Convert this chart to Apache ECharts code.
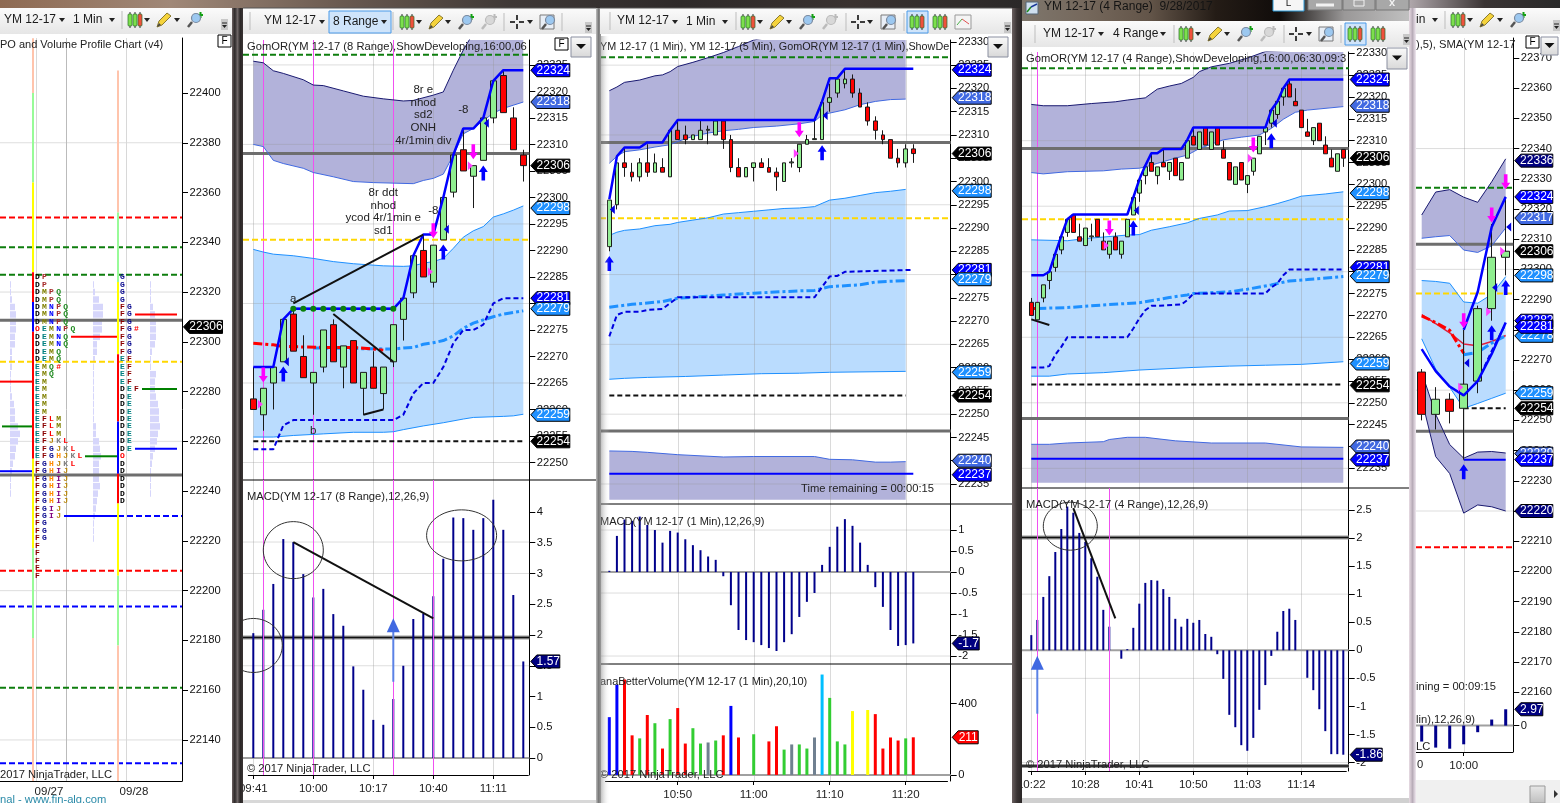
<!DOCTYPE html>
<html><head><meta charset="utf-8">
<style>html,body{margin:0;padding:0;background:#2a2a2a}#c{width:1560px;height:803px}</style>
<script src="https://cdn.jsdelivr.net/npm/echarts@6/dist/echarts.min.js"></script>
</head><body><div id="c"></div>
<script>
/* ============ DATA: candles are [open, close, low, high] ============ */
const candlesB=[[22262,22260,22260,22268],[22259,22264,22256,22264],[22265,22268,22260,22268],[22269,22277,22269,22277],[22278,22271,22271,22279],[22270,22266,22266,22274],[22265,22267,22259,22267],[22268,22275,22267,22275],[22276,22269,22269,22277],[22268,22272,22264,22272],[22273,22265,22265,22273],[22264,22267,22259,22267],[22268,22264,22264,22271],[22263,22268,22260,22268],[22269,22276,22268,22276],[22277,22281,22273,22281],[22282,22289,22281,22289],[22290,22285,22285,22293],[22284,22291,22283,22291],[22292,22300,22292,22300],[22301,22308,22300,22308],[22309,22305,22305,22313],[22304,22306,22298,22306],[22307,22315,22307,22315],[22315,22322,22314,22322],[22323,22316,22316,22324],[22315,22309,22309,22317],[22308,22306,22303,22309]];
const candlesC=[[22286,22296,22285,22296],[22295,22304,22294,22304],[22304,22303,22301,22307],[22302,22301,22300,22304],[22301,22304,22300,22305],[22304,22302,22301,22308],[22302,22304,22302,22306],[22303,22302,22302,22305],[22301,22311,22301,22311],[22311,22309,22309,22313],[22310,22309,22308,22312],[22309,22310,22309,22310],[22309,22311,22309,22313],[22311,22311.2,22308,22312],[22310,22313,22310,22313],[22313,22309,22307,22313],[22309,22303,22302,22310],[22303,22301,22301,22305],[22301,22303,22301,22303],[22303,22304,22300,22304],[22304,22303,22303,22305],[22303,22302,22302,22305],[22302,22301,22298,22303],[22300,22304,22300,22304],[22304,22304.2,22303,22305],[22303,22308,22302,22308],[22308,22309,22308,22310],[22309,22309.2,22309,22313],[22309,22317,22309,22317],[22317,22318,22315,22321],[22319,22322,22318,22322],[22321,22322,22320,22324],[22322,22319,22318,22323],[22319,22316,22316,22320],[22316,22313,22312,22317],[22313,22311,22309,22314],[22310,22309,22308,22311],[22309,22305,22305,22309],[22305,22304,22303,22307],[22304,22307,22303,22308],[22307,22306,22304,22308]];
const candlesD=[[22273,22270,22270,22274],[22269,22273,22269,22273],[22274,22277,22273,22277],[22278,22280,22276,22280],[22281,22284,22280,22284],[22285,22288,22284,22288],[22289,22292,22288,22292],[22293,22289,22289,22293],[22288,22287,22287,22291],[22286,22290,22286,22290],[22288,22288.2,22287,22291],[22292,22288,22288,22292],[22287,22285,22285,22289],[22284,22287,22283,22287],[22288,22285,22285,22289],[22284,22287,22283,22287],[22288,22292,22288,22292],[22293,22297,22293,22297],[22298,22301,22296,22301],[22302,22304,22300,22304],[22305,22303,22303,22307],[22302,22304,22300,22304],[22305,22304,22304,22308],[22303,22305,22301,22305],[22306,22302,22302,22306],[22301,22305,22301,22305],[22306,22310,22306,22310],[22311,22309,22309,22313],[22308,22312,22308,22312],[22313,22309,22309,22313],[22308,22312,22308,22312],[22313,22309,22309,22313],[22308,22306,22306,22310],[22305,22301,22301,22305],[22300,22304,22300,22304],[22305,22301,22301,22305],[22300,22302,22298,22302],[22303,22306,22302,22306],[22307,22311,22307,22311],[22312,22313,22309,22313],[22314,22317,22313,22317],[22316,22319,22315,22319],[22320,22322,22318,22322],[22323,22320,22320,22324],[22319,22318,22318,22322],[22317,22313,22313,22317],[22312,22311,22311,22315],[22310,22313,22309,22313],[22314,22310,22310,22314],[22309,22307,22307,22311],[22306,22304,22304,22308],[22303,22307,22303,22307],[22308,22306,22304,22308]];
const candlesE=[[22266,22252,22250,22267],[22252,22257,22247,22261],[22257,22253,22249,22259],[22254,22262,22237,22280],[22263,22287,22259,22288],[22287,22304,22283,22315],[22304,22306,22298,22324]];

const macdB=[2.03,2.41,2.83,3.56,3.51,2.99,2.61,2.75,2.34,2.15,1.49,1.11,0.62,0.54,0.96,1.50,2.26,2.35,2.63,3.24,3.91,3.90,3.71,3.90,4.20,3.71,2.65,1.57];
const macdC=[0.03,0.86,1.25,1.22,1.32,1.12,1.0,0.70,0.98,0.94,0.78,0.64,0.52,0.37,0.29,-0.10,-0.79,-1.38,-1.62,-1.67,-1.74,-1.81,-1.88,-1.67,-1.48,-1.07,-0.71,-0.50,0.17,0.60,1.08,1.26,1.10,0.70,0.17,-0.36,-0.83,-1.38,-1.76,-1.74,-1.70];
const macdD=[0.27,0.54,0.95,1.32,1.75,2.16,2.56,2.45,2.09,1.93,1.64,1.31,0.72,0.42,0,-0.15,0.02,0.40,0.83,1.20,1.25,1.24,1.09,0.95,0.56,0.42,0.56,0.49,0.54,0.29,0.24,-0.07,-0.51,-1.15,-1.37,-1.69,-1.79,-1.56,-1.06,-0.62,-0.10,0.33,0.70,0.74,0.54,0,-0.49,-0.71,-1.05,-1.44,-1.85,-1.85,-1.86];
const macdE=[-2.9,-4,-4.2,-3.4,-1.2,1.1,2.97];
const volumeC=[324,506,535,222,205,336,290,148,313,375,176,262,176,182,193,222,387,210,0,228,0,188,273,142,171,171,148,210,563,432,188,171,358,0,364,341,148,210,193,205,211];
const volumeColorKeysC=['b','b','r','r','g','r','g','r','g','r','r','g','g','s','g','r','b','r','g','g','g','r','r','g','s','g','g','s','c','g','g','g','y','g','y','r','r','r','r','g','r'];

const timeTicksB=[[0,'09:41'],[6,'10:00'],[12,'10:17'],[18,'10:40'],[24,'11:11']];
const timeTicksC=[[9,'10:50'],[19,'11:00'],[29,'11:10'],[39,'11:20']];
const timeTicksD=[[0,'10:22'],[9,'10:28'],[18,'10:41'],[27,'10:50'],[36,'11:03'],[45,'11:14']];
const timeTicksE=[[3,'10:00']];

const priceTicksA=[22140,22160,22180,22200,22220,22240,22260,22280,22300,22320,22340,22360,22380,22400];
const priceTicksB=[22250,22255,22260,22265,22270,22275,22280,22285,22290,22295,22300,22305,22310,22315,22320,22325];
const priceTicksCD=[22235,22240,22245,22250,22255,22260,22265,22270,22275,22280,22285,22290,22295,22300,22305,22310,22315,22320,22325,22330];
const priceTicksE=[22160,22170,22180,22190,22200,22210,22220,22230,22240,22250,22260,22270,22280,22290,22300,22310,22320,22330,22340,22350,22360,22370];
const macdTicksB=[0,0.5,1,1.5,2,2.5,3,3.5,4];
const macdTicksC=[-2,-1.5,-1,-0.5,0,0.5,1];
const macdTicksD=[-2,-1.5,-1,-0.5,0,0.5,1,1.5,2,2.5];
const macdTicksE=[0];
const volTicksC=[0,400];
const gridA=[22140,22200,22260,22320,22380];
const gridCD=[22235,22250,22265,22280,22295,22310,22325];
const gridE=[22220,22260,22300,22340];
const gridMacdB=[1.5,3];
const gridMacdCD=[-2,-0.5,1];
const gridMacdD=[-2,-0.5,1,2.5];

/* band edges as [bar, price] */
const purpleTopB=[[0,22325.7],[1,22325.4],[2,22323.9],[3,22323.4],[5,22322.2],[6,22321.2],[7,22321.1],[9,22320.1],[11,22319.1],[13,22318.6],[15,22318.2],[16,22318.3],[18,22319.3],[19,22319.9],[20,22324],[21,22327.8],[22,22331],[23,22332.8],[25,22334.7],[27,22335.4]];
const purpleBotB=[[0,22310],[1,22309.6],[2,22307],[3,22306.4],[5,22305.5],[6,22304.7],[8,22303.9],[10,22303],[12,22302.8],[16,22302.6],[17,22303.2],[18,22303.6],[19,22304.4],[20,22308],[21,22312],[22,22313],[23,22314.5],[24,22315.9],[25,22316.8],[26,22317.4],[27,22318]];
const blueTopB=[[0,22290.2],[1,22289.7],[2,22289.3],[4,22289],[6,22288.5],[8,22287.9],[10,22287.5],[13,22287.1],[15,22287],[16,22287.1],[17,22287.6],[18,22287.9],[19,22288.5],[20,22290.4],[21,22292.5],[22,22293.7],[23,22294.5],[24,22296.3],[25,22296.9],[26,22297.6],[27,22298.4]];
const blueBotB=[[0,22254.8],[2,22254.8],[4,22255.1],[7,22255.4],[10,22255.7],[13,22255.7],[14,22255.8],[15,22256.2],[17,22256.9],[19,22257.5],[21,22258.2],[22,22258.5],[25,22258.7],[26,22258.8],[27,22259.1]];
const highB=[[0,22268],[2,22268],[3,22277],[4,22279],[14,22279],[15,22281],[16,22289],[17,22293],[18,22293],[19,22300],[20,22308],[21,22313],[22,22313],[23,22315],[24,22322],[25,22324],[27,22324]];
const lowB=[[0,22252.5],[2,22252.5],[3,22257],[4,22258],[14,22258],[15,22259],[16,22263],[17,22265],[18,22265],[19,22268],[20,22272.5],[21,22275],[22,22275],[23,22276],[24,22280],[25,22281],[27,22281]];
const vwapB=[[6,22271.6],[14,22271.4],[15,22271.6],[16,22271.7],[17,22272.3],[18,22272.6],[19,22273],[20,22273.9],[21,22275.3],[22,22276.3],[23,22276.9],[24,22277.5],[25,22278],[27,22278.6]];
const redMaB=[[0,22272.5],[2,22272.2],[3,22271.9],[7,22271.7],[10,22271.7],[12,22271.4],[13,22271.2]];
const dotsB=[[4,22279],[5,22279],[6,22279],[7,22279],[8,22279],[9,22279],[10,22279],[11,22279],[12,22279],[13,22279],[14,22279]];

const purpleTopC=[[0,22319.5],[1,22320.3],[2,22321.3],[4,22321.8],[6,22322.7],[7,22322.9],[8,22323.6],[9,22324.7],[11,22325.6],[13,22326.6],[15,22327.7],[17,22329],[19,22330.4],[21,22331],[25,22332],[39,22334]];
const purpleBotC=[[0,22303.9],[1,22305.4],[2,22306.4],[4,22306.8],[6,22307.4],[8,22307.9],[9,22308.6],[11,22309.7],[13,22310.4],[15,22310.9],[17,22311.2],[19,22311.6],[22,22311.9],[25,22312.4],[27,22312.9],[28,22314.3],[29,22314.7],[31,22315.4],[33,22316.5],[35,22317.2],[37,22317.6],[39,22317.7]];
const blueTopC=[[0,22288.4],[1,22289.1],[2,22289.5],[4,22289.8],[6,22290.5],[8,22290.8],[9,22291.2],[11,22291.7],[13,22292.2],[15,22293],[17,22293.3],[19,22293.6],[21,22293.9],[23,22294.2],[25,22294.3],[27,22294.6],[28,22295.3],[29,22296],[31,22296.4],[33,22297],[35,22297.6],[37,22297.9],[39,22298.3]];
const blueBotC=[[0,22257.5],[2,22257.7],[5,22257.9],[10,22258.1],[15,22258.4],[20,22258.7],[25,22258.8],[29,22259],[39,22259.2]];
const lowerTopC=[[0,22242.1],[3,22242],[5,22241.8],[9,22241.3],[15,22240.8],[19,22240.9],[27,22240.9],[29,22240.3],[32,22240.2],[35,22239.7],[37,22239.7],[39,22239.8]];
const lowerBotC=[[0,22231.6],[39,22231.6]];
const highC=[[0,22296.2],[1,22305.4],[2,22307.3],[4,22307.3],[5,22308.4],[7,22308.4],[8,22311],[9,22313.2],[27,22313.2],[28,22317.2],[29,22322.2],[30,22322.2],[31,22324.2],[40,22324.2]];
const lowC=[[0,22266.7],[1,22271.3],[2,22272],[4,22272],[5,22272.4],[7,22272.6],[9,22275.1],[27,22275.1],[29,22279.6],[30,22279.7],[31,22280.6],[40,22281]];
const vwapC=[[0,22273],[3,22273.6],[7,22274.2],[9,22274.9],[15,22275.6],[19,22276],[25,22276.5],[27,22276.6],[29,22277.4],[33,22277.8],[35,22278.4],[39,22278.7]];

const purpleTopD=[[0,22318.3],[2,22318],[6,22318],[10,22318.5],[14,22318.9],[16,22319.3],[19,22319.8],[21,22321.8],[23,22322.5],[25,22323.1],[27,22324.5],[28,22325.8],[30,22326.9],[33,22327.7],[36,22328.9],[39,22330.4],[45,22330.8],[52,22331]];
const purpleBotD=[[0,22302.7],[2,22302.4],[6,22302.9],[12,22303.1],[15,22303.5],[18,22303.7],[19,22304],[21,22304.8],[24,22306],[26,22306.7],[28,22308.2],[32,22310.2],[35,22310.8],[38,22311.3],[40,22312.8],[42,22314.9],[44,22316.5],[46,22317],[52,22317.8]];
const blueTopD=[[0,22287.3],[6,22287.1],[9,22287.6],[16,22288.4],[18,22288.5],[20,22289.5],[23,22290.3],[26,22291.2],[28,22292.2],[31,22293],[33,22293.9],[36,22294],[39,22294.9],[41,22295.6],[43,22296.4],[45,22297.3],[49,22297.8],[52,22298.3]];
const blueBotD=[[0,22256.1],[3,22256.1],[6,22256.6],[12,22256.9],[18,22257.5],[27,22258.1],[33,22258.4],[39,22258.6],[45,22258.8],[52,22259.4]];
const lowerTopD=[[0,22240.5],[3,22240.5],[6,22240.8],[12,22241.1],[13,22241.6],[16,22242.1],[19,22242.1],[24,22241.3],[30,22240.8],[39,22240.8],[45,22239.9],[52,22239.8]];
const lowerBotD=[[0,22231.7],[52,22231.7]];
const highD=[[0,22279.2],[2,22279.2],[3,22280],[4,22284.2],[5,22288.2],[6,22292],[7,22293.1],[16,22293.1],[17,22297],[18,22301.1],[19,22304.3],[20,22307.1],[21,22307.1],[22,22308.1],[25,22308.1],[26,22310.2],[27,22313],[39,22313],[40,22317],[41,22318.9],[42,22322],[43,22324],[52,22324]];
const lowD=[[0,22258.1],[2,22258.1],[3,22258.4],[4,22261],[5,22262.8],[6,22265],[7,22265],[16,22265],[17,22267],[18,22269.3],[19,22271.2],[20,22272.2],[21,22272.2],[25,22272.5],[26,22273.5],[27,22275],[39,22275],[40,22276.4],[41,22277.3],[42,22279.2],[43,22280.5],[52,22280.5]];
const vwapD=[[1,22271.6],[6,22271.8],[12,22272.4],[18,22272.9],[23,22274.1],[26,22274.7],[27,22275],[33,22275.4],[36,22276],[40,22277],[43,22277.9],[46,22278.2],[52,22278.9]];
const redTickD=[[0,22271.6],[1,22271.6]];

const purpleTopE=[[0,22318],[1,22325.6],[2,22326.4],[3,22323.9],[4,22322.2],[5,22329],[6,22336.6]];
const purpleBotE=[[0,22310.3],[1,22310.8],[2,22311.2],[3,22306.4],[4,22305.6],[5,22307.8],[6,22313.7]];
const blueTopE=[[0,22296.3],[1,22296],[2,22295.4],[3,22289.2],[4,22288.8],[5,22291.7],[6,22297.6]];
const blueBotE=[[0,22277],[1,22267],[2,22261],[3,22254],[4,22255.6],[5,22257.3],[6,22259]];
const lowerTopE=[[0,22266],[1,22252],[2,22242],[3,22237.5],[4,22239.5],[5,22239.7],[6,22239.2]];
const lowerBotE=[[0,22257],[1,22238],[2,22232.4],[3,22219.3],[4,22222],[5,22221.4],[6,22220]];
const highE=[[3,22280],[4,22292.5],[5,22314],[6,22324]];
const lowE=[[0,22273.6],[1,22266.3],[2,22261.2],[3,22258.3],[4,22263],[5,22272],[6,22282.4]];
const lowDashE=[[4,22263],[5,22273],[6,22282]];
const maRedE=[[0,22285],[1,22282],[2,22279],[3,22275.3],[4,22274.7],[5,22276.1],[6,22278.1]];
const dashRedE=[[0,22284.6],[1,22282.4],[2,22279.8],[3,22272.2]];
const vwapE=[[3,22271.7],[4,22272.5],[5,22275.6],[6,22278]];

/* horizontal levels: [price, styleKey, fromX?, toX?] */
const levelsA=[[22350,'redD'],[22338,'greenD'],[22327,'greenD'],[22292,'goldD'],[22308.7,'grey'],[22246.5,'grey'],[22208,'redD'],[22193.6,'blueD'],[22161,'greenD'],[22130.6,'blueD'],
 [22284,'redS',0,32],[22266,'greenS',2,32],[22248,'blueS',0,32],[22302,'redS',71,117],[22254,'greenS',85,117],[22230,'blueS',64,118],[22230,'blueD',118,182],[22311,'redS',135,177],[22281,'greenS',142,177],[22257,'blueS',135,177]];
const levelsB=[[22326.9,'greenD'],[22308.3,'grey'],[22292,'goldD'],[22254,'blackD',0,27]];
const levelsC=[[22326.7,'greenD'],[22308.4,'grey'],[22292.1,'goldD'],[22254,'blackD',0,39],[22246.4,'grey'],[22237.2,'blueS',0,40]];
const levelsD=[[22326.6,'greenD'],[22308.2,'grey'],[22292,'goldD'],[22254.2,'blackD',0,52],[22246.4,'grey'],[22237.2,'blueS',0,52]];
const levelsE=[[22327,'greenD'],[22308.3,'grey'],[22292,'goldD'],[22208,'redD'],[22254,'blackD',3,6],[22246.4,'grey'],[22237,'blueS',3,6]];
const macdLevelsB=[[1.96,'macdHalo'],[1.96,'macdLine']];
const macdLevelsD=[[2.01,'macdHalo'],[2.01,'macdLine'],[-2.06,'macdHalo'],[-2.06,'macdLine']];

/* price-axis flags: [value, text, colorKey] */
const flagsB=[[22324,'22324','blue'],[22318,'22318','royal'],[22306,'22306','black'],[22298,'22298','dodger'],[22281,'22281','blue'],[22279,'22279','dodger'],[22259,'22259','dodger'],[22254,'22254','black']];
const flagsCD=[[22324,'22324','blue'],[22318,'22318','royal'],[22306,'22306','black'],[22298,'22298','dodger'],[22281,'22281','blue'],[22279,'22279','dodger'],[22259,'22259','dodger'],[22254,'22254','black'],[22240,'22240','royal'],[22237,'22237','blue']];
const flagsE=[[22336,'22336','navy'],[22324,'22324','blue'],[22317,'22317','royal'],[22306,'22306','black'],[22298,'22298','dodger'],[22283,'22282','blue'],[22278,'22278','dodger'],[22281,'22281','blue'],[22259,'22259','dodger'],[22254,'22254','black'],[22239,'22239','royal'],[22237,'22237','blue'],[22220,'22220','navy']];

/* signals: [bar, price] */
const upB=[[3,22266.7],[19,22289.7],[23,22304.6]], downB=[[1,22266.5],[18,22293.7],[22,22308.6]], pinkB=[[1,22261],[18,22286],[22,22306]], leftB=[[3,22269],[19,22294],[23,22314]];
const upC=[[0,22282.4],[28,22306.2]], downC=[[25,22311.1]], pinkC=[[25,22306]], leftC=[[0,22294],[28,22314.2]];
const upD=[[17,22290],[40,22310]], downD=[[13,22290],[37,22309]], pinkD=[[13,22286],[37,22306]], leftD=[[17,22294],[40,22314]];
const upE=[[3,22233],[5,22279],[6,22294]], downE=[[3,22283],[5,22318],[6,22329]], pinkE=[[3,22261],[5,22286],[6,22306]], leftE=[[3,22269],[5,22294],[6,22314]];

/* hand-drawn chart annotations */
const trendsB=[[[4,22280],[17,22293]],[[8,22278],[14,22269]],[[11,22259],[13,22260]]];
const trendMacdB=[[4,3.51],[18,2.27]];
const trendsD=[[[0,22269.1],[3,22267.8]]];
const trendMacdD=[[7,2.53],[14,0.57]];
const notesB=[[17,22315.5,'8r e\nnhod\nsd2\nONH\n4r/1min div'],[13,22297.3,'8r ddt\nnhod\nycod 4r/1min e\nsd1'],[21,22316.6,'-8'],[18,22297.5,'-8'],[4,22280.8,'a'],[6,22256,'b']];
const circlesB=[[4,3.38],[0,1.83],[21,3.62]];
const circlesD=[[6,2.21]];
const arrowShaftB=[[14,1.24],[14,2.1]];
const arrowHeadB=[[14,2.16]];
const arrowShaftD=[[1,-1.13],[1,-0.3]];
const arrowHeadD=[[1,-0.22]];

/* TPO letter rows */
const tpoPrices27=[22326,22323,22320,22317,22314,22311,22308,22305,22302,22299,22296,22293,22290,22287,22284,22281,22278,22275,22272,22269,22266,22263,22260,22257,22254,22251,22248,22245,22242,22239,22236,22233,22230,22227,22224,22221,22218,22215,22212,22209,22206];
const tpoRows27=['DP','DP','DMPQ','DMPQ','DMNPQ','DMNPQ','DMNPQ','OEMNPQ','DEMNQ','DEMNQ','DEMQ','DEMQ','EMQ#','EMQ','EM','EM','EM','EM','EM','EFLM','EFLM','EFLM','EFJKL','EFGJKL','EFGHJKL','FGHJKL','FGHIJ','FGHIJ','FGHIJ','FGHIJ','FGHIJ','FGIJ','FGIJ','FG','FG','FG','F','F','F','F','F'];
const tpoPrices28=[22326,22323,22320,22317,22314,22311,22308,22305,22302,22299,22296,22293,22290,22287,22284,22281,22278,22275,22272,22269,22266,22263,22260,22257,22254,22251,22248,22245,22242,22239,22236];
const tpoRows28=['G','G','G','G','FG','FG','FG','FG#','FG','FG','FG','EF','EF','EF','EF','DEF','DE','DE','DE','DE','DE','DE','DE','DE','O','D','D','D','D','D','D'];
const tpoStrip27=[[22422,22400,'salmon'],[22400,22364,'lime'],[22364,22328,'yellow'],[22328,22316,'red'],[22316,22304,'blue'],[22304,22253,'red'],[22253,22217,'yellow'],[22217,22181,'lime'],[22181,22123.5,'salmon']];
const tpoStrip28=[[22409,22352,'salmon'],[22352,22324,'lime'],[22324,22295,'yellow'],[22295,22268,'red'],[22268,22247,'blue'],[22247,22235,'red'],[22235,22206,'yellow'],[22206,22178,'lime'],[22178,22123.5,'salmon']];
const profilePrices=[22323,22320,22317,22314,22311,22308,22305,22302,22299,22296,22293,22290,22287,22284,22281,22278,22275,22272,22269,22266,22263,22260,22257,22254,22251,22248,22245,22242,22239,22236,22233,22230,22227,22224,22221];
const profile1=[1,1,2,5,6,6,6,5,5,2,2,2,1,1,1,2,4,5,5,8,10,8,6,5,3,2,1,1,1];
const profile2=[1,2,6,10,10,9,9,7,4,4,2,1,1,1,1,1,1,1,1,3,3,6,7,8,6,6,6,7,5,4,3,2,1,1,1];
const profile3=[1,1,1,3,5,6,6,6,5,2,1,1,6,5,5,6,8,9,9,10,8,7,5,3,2,1,1,1,1];
const sessionLabelsA=['09/27','09/28'];
const sessionTicksA=[49,134];

/* ============ STYLE ============ */
const FONT='"Liberation Sans"';
const TEXT='#222';
const COL={blue:'#0000FF',royal:'#4169E1',black:'#000000',dodger:'#1E90FF',navy:'#000080',red:'#FF0000'};
const VOLCOL={b:'#0000FF',r:'#FF0000',g:'#32CD32',s:'#708090',c:'#00BFFF',y:'#FFFF00'};
const STRIP={salmon:'#FFC4AC',lime:'#98FB98',yellow:'#FFFF00',red:'#FF0000',blue:'#0000FF'};
const LETTER={D:'#000',E:'#008080',F:'#8B0000',G:'#00008B',H:'#FF8C00',I:'#800080',J:'#B8860B',K:'#808080',L:'#FF0000',M:'#808000',N:'#0000FF',O:'#FF0000',P:'#A52A2A',Q:'#228B22','#':'#FF0000'};
const LV={greenD:{c:'#0E7E0E',w:2,d:[6,3]},goldD:{c:'#FFD700',w:2,d:[6,3]},blackD:{c:'#111',w:2,d:[5,3]},redD:{c:'#FF0000',w:2,d:[6,3]},blueD:{c:'#0000FF',w:2,d:[6,3]},
 grey:{c:'#6E6E6E',w:3},redS:{c:'#FF0000',w:2},greenS:{c:'#008000',w:2},blueS:{c:'#0000FF',w:2},macdHalo:{c:'#999',w:4},macdLine:{c:'#111',w:1.5},
 grid:{c:'rgba(150,150,150,0.32)',w:1},zero:{c:'#A0A0A0',w:2}};
const ARROW_UP='path://M5 0L10 6.5L7 6.5L7 15L3 15L3 6.5L0 6.5Z';
const ARROW_DN='path://M3 0L7 0L7 8.5L10 8.5L5 15L0 8.5L3 8.5Z';
const TRI_R='path://M0 0L10 9L0 18Z';
const TRI_L='path://M10 0L0 9L10 18Z';
const MAGENTA='#F050F0';

/* ============ BUILD ============ */
const grids=[],xAxes=[],yAxes=[],series=[];
function cats(n,ticks){const a=new Array(n).fill('');ticks.forEach(t=>a[t[0]]=t[1]);return a;}
function pane(o){
  const g=grids.length;
  const width=o.width!==undefined?o.width:o.band*o.n;
  grids.push({left:o.left,top:o.top,width:width,height:o.bottom-o.top});
  const showX=!!o.ticks;
  const f=(i,v)=>v!=='';
  if(o.valueX){
    xAxes.push({gridIndex:g,type:'value',min:0,max:width,splitLine:{show:false},axisLine:{show:true,onZero:false,lineStyle:{color:'#000'}},axisTick:{show:false},
      axisLabel:{customValues:sessionTicksA,formatter:v=>sessionLabelsA[sessionTicksA.indexOf(v)]||'',color:TEXT,fontFamily:FONT,fontSize:11.5,margin:5}});
  }else{
    xAxes.push({gridIndex:g,type:'category',data:cats(o.n,o.ticks||[]),boundaryGap:true,splitLine:{show:false},
      axisLine:{show:showX,onZero:false,lineStyle:{color:'#000'}},
      axisTick:{show:showX,alignWithLabel:true,interval:f,length:4,lineStyle:{color:'#000'}},
      axisLabel:{show:showX,interval:f,color:TEXT,fontFamily:FONT,fontSize:11.5,margin:8,hideOverlap:false}});
  }
  yAxes.push({gridIndex:g,type:'value',position:'right',min:o.min,max:o.max,scale:true,offset:o.axisX-(o.left+width),splitLine:{show:false},
    axisLine:{show:true,onZero:false,lineStyle:{color:'#000'}},
    axisTick:{show:true,length:6,customValues:o.yTicks,lineStyle:{color:'#000'}},
    axisLabel:{customValues:o.yTicks,formatter:v=>String(v),color:'#111',fontFamily:FONT,fontSize:11.2,margin:7.5}});
  return {g,frameLeft:o.frameLeft,axisX:o.axisX};
}
function base(p){return {xAxisIndex:p.g,yAxisIndex:p.g,silent:true,animation:false};}
function levels(p,list,z){
  series.push({...base(p),type:'custom',z:z||3,clip:false,data:list.map((l,i)=>[i,l[0]]),encode:{x:0,y:1},renderItem:(params,api)=>{
    const l=list[api.value(0)];const s=LV[l[1]];
    const y=api.coord([0,l[0]])[1];
    const x0=l[2]!==undefined?api.coord([l[2],l[0]])[0]:p.frameLeft;
    const x1=l[3]!==undefined?api.coord([l[3],l[0]])[0]:p.axisX;
    return {type:'line',shape:{x1:x0,y1:y,x2:x1,y2:y},style:{stroke:s.c,lineWidth:s.w,lineDash:s.d||null}};
  }});
}
function vlines(p,bars,color,z){
  series.push({...base(p),type:'custom',z:z||2,clip:false,data:bars.map(b=>[b]),encode:{x:0},renderItem:(params,api)=>{
    const c=params.coordSys;const x=Math.round(api.coord([api.value(0),yAxes[p.g].min])[0])+0.5;
    return {type:'line',shape:{x1:x,y1:c.y,x2:x,y2:c.y+c.height},style:{stroke:color,lineWidth:1}};
  }});
}
function band(p,top,bot,fill){
  series.push({...base(p),type:'custom',z:1,clip:true,data:[[0,top[0][1]]],encode:{x:0,y:1},renderItem:(params,api)=>{
    const pts=top.map(q=>api.coord(q)).concat(bot.slice().reverse().map(q=>api.coord(q)));
    return {type:'polygon',shape:{points:pts},style:{fill:fill}};
  }});
}
function line(p,data,color,w,dash,z,name){
  series.push({...base(p),type:'line',name:name,data:data,symbol:'none',z:z||4,clip:true,lineStyle:{color:color,width:w,type:dash||'solid'}});
}
function signals(p,list,sym,color,size,off,z){
  series.push({...base(p),type:'scatter',data:list,symbol:sym,symbolSize:size,symbolOffset:off||[0,0],z:z||7,itemStyle:{color:color,opacity:1}});
}
function flags(p,list,w){
  series.push({...base(p),type:'custom',z:20,clip:false,data:list.map((f,i)=>[0,f[0],i]),encode:{y:1},renderItem:(params,api)=>{
    const f=list[api.value(2)];const y=api.coord([0,f[0]])[1];const x=p.axisX+1.5;
    return {type:'group',children:[
      {type:'polygon',shape:{points:[[x,y],[x+6,y-6.5],[x+w,y-6.5],[x+w,y+6.5],[x+6,y+6.5]]},style:{fill:COL[f[2]],stroke:'#000',lineWidth:1}},
      {type:'text',style:{text:f[1],x:x+6+(w-6)/2,y:y,align:'center',verticalAlign:'middle',fill:'#fff',font:'12px '+FONT}}
    ]};
  }});
}
function notes(p,list){
  series.push({...base(p),type:'custom',z:8,clip:false,data:list.map((n,i)=>[n[0],n[1],i]),encode:{x:0,y:1},renderItem:(params,api)=>{
    const n=list[api.value(2)];const c=api.coord([n[0],n[1]]);
    return {type:'text',style:{text:n[2],x:c[0],y:c[1],align:'center',verticalAlign:'middle',fill:'#222',font:'11.5px '+FONT,lineHeight:12.7}};
  }});
}
function circles(p,list,radii){
  series.push({...base(p),type:'custom',z:8,clip:false,data:list.map((n,i)=>[n[0],n[1],i]),encode:{x:0,y:1},renderItem:(params,api)=>{
    const i=api.value(2);const c=api.coord([api.value(0),api.value(1)]);const r=radii[i];const s=params.coordSys;
    return {type:'ellipse',shape:{cx:c[0]+r[2],cy:c[1],rx:r[0],ry:r[1]},style:{fill:null,stroke:'#333',lineWidth:1},
      clipPath:{type:'rect',shape:{x:p.frameLeft,y:s.y,width:p.axisX-p.frameLeft,height:s.height}}};
  }});
}
function candles(p,data,w){
  series.push({...base(p),type:'candlestick',data:data,barWidth:w,z:5,clip:true,
    itemStyle:{color:'#90EE90',color0:'#FF0000',borderColor:'#1a1a1a',borderColor0:'#1a1a1a',borderColorDoji:'#1a1a1a',borderWidth:1}});
}
function macdBars(p,data,w){
  series.push({...base(p),type:'bar',data:data,barWidth:w,z:5,itemStyle:{color:'#00008B'}});
}
function allSignals(p,up,dn,pink,left){
  signals(p,up,ARROW_UP,'#0000FF',[9,15]);
  signals(p,dn,ARROW_DN,'#FF00FF',[9,15]);
  signals(p,pink,TRI_R,'#FF40FF',[5,9],[-3,0]);
  signals(p,left,TRI_L,'#0000E0',[5,9],[3,0]);
}
const levelRows=a=>a.map(v=>[v,'grid']);

/* ---------- A: TPO ---------- */
const pA=pane({left:0,width:182,valueX:true,top:38,bottom:781,min:22123.5,max:22422.1,yTicks:priceTicksA,axisX:182,frameLeft:0});
levels(pA,levelRows(gridA),1);
vlines(pA,[36,126],'#D8D8D8',1);vlines(pA,[66],'#BBBBBB',1);
function profileSeries(list,baseX){
  const rows=list.map((w,i)=>[baseX,profilePrices[i],w]);
  series.push({...base(pA),type:'custom',z:2,clip:false,data:rows,encode:{x:0,y:1},renderItem:(params,api)=>{
    const a=api.coord([api.value(0),api.value(1)+1.3]);const b=api.coord([api.value(0)+api.value(2),api.value(1)-1.3]);
    return {type:'rect',shape:{x:a[0],y:a[1],width:b[0]-a[0],height:b[1]-a[1]},style:{fill:'#D6D6FB'}};
  }});
}
profileSeries(profile1,10);profileSeries(profile2,93);profileSeries(profile3,150);
levels(pA,levelsA,3);
function strip(list,x){
  series.push({...base(pA),type:'custom',z:4,clip:false,data:list.map((s,i)=>[x,s[0],s[1],i]),encode:{x:0,y:[1,2]},renderItem:(params,api)=>{
    const s=list[api.value(3)];const a=api.coord([x,s[0]]);const b=api.coord([x,s[1]]);
    return {type:'rect',shape:{x:a[0]-1,y:a[1],width:2,height:b[1]-a[1]},style:{fill:STRIP[s[2]]}};
  }});
}
strip(tpoStrip27,33);strip(tpoStrip28,118);
function tpo(rows,prices,x,step){
  const pts=[];rows.forEach((r,i)=>[...r].forEach((ch,k)=>pts.push([x+k*step,prices[i],ch])));
  series.push({...base(pA),type:'custom',z:6,clip:false,data:pts.map((q,i)=>[q[0],q[1],i]),encode:{x:0,y:1},renderItem:(params,api)=>{
    const q=pts[api.value(2)];const c=api.coord([q[0],q[1]]);
    return {type:'text',style:{text:q[2],x:c[0],y:c[1],align:'center',verticalAlign:'middle',fill:LETTER[q[2]],font:'bold 8px "Liberation Mono"'}};
  }});
}
tpo(tpoRows27,tpoPrices27,37.3,7.1);tpo(tpoRows28,tpoPrices28,122.3,7);
flags(pA,[[22306,'22306','black']],39);

/* ---------- B ---------- */
const geoB={left:248.3,band:10,n:28,axisX:529.3,frameLeft:243};
const pB=pane({...geoB,top:40,bottom:480,min:22246.7,max:22329.7,yTicks:priceTicksB});
const pBm=pane({...geoB,top:480,bottom:775,min:-0.276,max:4.52,yTicks:macdTicksB,ticks:timeTicksB});
band(pB,purpleTopB,purpleBotB,'#B2B2DA');band(pB,blueTopB,blueBotB,'#BADCFE');
levels(pB,levelRows(gridCD),2);
vlines(pB,timeTicksB.map(t=>t[0]),'rgba(150,150,150,0.35)');vlines(pB,[1,6,14],MAGENTA,3);
levels(pB,levelsB);
line(pB,purpleTopB,'#191970',1);line(pB,purpleBotB,'#4169E1',1);line(pB,blueTopB,'#1E90FF',1);line(pB,blueBotB,'#1E90FF',1);
line(pB,vwapB,'#1E90FF',3,[9,3,3,3]);line(pB,redMaB,'#FF0000',3,[9,3,3,3]);
line(pB,lowB,'#0000E0',2,[5,3]);
candles(pB,candlesB,6);
line(pB,highB,'#0000FF',2.5,null,6);
series.push({...base(pB),type:'line',data:dotsB,symbol:'circle',symbolSize:6,z:6,itemStyle:{color:'#0A800A'},lineStyle:{color:'#0000FF',width:2}});
trendsB.forEach(t=>line(pB,t,'#111',2,null,6));
allSignals(pB,upB,downB,pinkB,leftB);
notes(pB,notesB);flags(pB,flagsB,39);
levels(pBm,levelRows(gridMacdB),1);levels(pBm,[[0,'zero']],2);
vlines(pBm,timeTicksB.map(t=>t[0]),'rgba(150,150,150,0.35)',1);vlines(pBm,[1,6,14,18],MAGENTA,6);
levels(pBm,macdLevelsB,4);macdBars(pBm,macdB,2);
line(pBm,trendMacdB,'#111',2,null,6);
line(pBm,arrowShaftB,'#5B82E6',2,null,6);signals(pBm,arrowHeadB,'triangle','#4169E1',[13,14]);
circles(pBm,circlesB,[[30,28.5,0],[29,27,0],[35,25.5,-1.7]]);
flags(pBm,[[1.57,'1.57','navy']],29);

/* ---------- C ---------- */
const geoC={left:605.5,band:7.6,n:45,axisX:950.7,frameLeft:600};
const pC=pane({...geoC,top:40,bottom:504,min:22230.7,max:22330.4,yTicks:priceTicksCD});
const pCm=pane({...geoC,top:504,bottom:664,min:-2.19,max:1.62,yTicks:macdTicksC});
const pCv=pane({...geoC,top:664,bottom:781,min:-34,max:622,yTicks:volTicksC,ticks:timeTicksC});
band(pC,purpleTopC,purpleBotC,'#B2B2DA');band(pC,blueTopC,blueBotC,'#BADCFE');band(pC,lowerTopC,lowerBotC,'#B2B2DA');
levels(pC,levelRows(gridCD),2);
vlines(pC,timeTicksC.map(t=>t[0]),'rgba(150,150,150,0.35)');
levels(pC,levelsC);
line(pC,purpleTopC,'#191970',1);line(pC,purpleBotC,'#4169E1',1);line(pC,blueTopC,'#1E90FF',1);line(pC,blueBotC,'#1E90FF',1);line(pC,lowerTopC,'#4169E1',1);
line(pC,vwapC,'#1E90FF',3,[9,3,3,3]);line(pC,lowC,'#0000E0',2,[5,3]);
candles(pC,candlesC,4);
line(pC,highC,'#0000FF',2.5,null,6);
allSignals(pC,upC,downC,pinkC,leftC);flags(pC,flagsCD,39);
levels(pCm,levelRows(gridMacdCD),1);levels(pCm,[[0,'zero']],2);
vlines(pCm,timeTicksC.map(t=>t[0]),'rgba(150,150,150,0.35)',1);
macdBars(pCm,macdC,2);flags(pCm,[[-1.7,'-1.7','navy']],27);
levels(pCv,[[0,'zero']],2);vlines(pCv,timeTicksC.map(t=>t[0]),'rgba(150,150,150,0.35)',1);
series.push({...base(pCv),type:'bar',barWidth:3,z:5,data:volumeC.map((v,i)=>({value:v,itemStyle:{color:VOLCOL[volumeColorKeysC[i]]}}))});
flags(pCv,[[211,'211','red']],26);

/* ---------- D ---------- */
const geoD={left:1028.3,band:6,n:53,axisX:1348.7,frameLeft:1022};
const pD=pane({...geoD,top:52,bottom:488,min:22230.5,max:22330.3,yTicks:priceTicksCD});
const pDm=pane({...geoD,top:488,bottom:771,min:-2.15,max:2.89,yTicks:macdTicksD,ticks:timeTicksD});
band(pD,purpleTopD,purpleBotD,'#B2B2DA');band(pD,blueTopD,blueBotD,'#BADCFE');band(pD,lowerTopD,lowerBotD,'#B2B2DA');
levels(pD,levelRows(gridCD),2);
vlines(pD,timeTicksD.map(t=>t[0]),'rgba(150,150,150,0.35)');vlines(pD,[1],MAGENTA,3);
levels(pD,levelsD);
line(pD,purpleTopD,'#191970',1);line(pD,purpleBotD,'#4169E1',1);line(pD,blueTopD,'#1E90FF',1);line(pD,blueBotD,'#1E90FF',1);line(pD,lowerTopD,'#4169E1',1);
line(pD,vwapD,'#1E90FF',3,[9,3,3,3]);line(pD,lowD,'#0000E0',2,[5,3]);line(pD,redTickD,'#FF0000',3,null,4);
candles(pD,candlesD,4);
line(pD,highD,'#0000FF',2.5,null,6);
trendsD.forEach(t=>line(pD,t,'#111',2,null,6));
allSignals(pD,upD,downD,pinkD,leftD);flags(pD,flagsCD,39);
levels(pDm,levelRows(gridMacdD),1);levels(pDm,[[0,'zero']],2);
vlines(pDm,timeTicksD.map(t=>t[0]),'rgba(150,150,150,0.35)',1);vlines(pDm,[1,13],MAGENTA,6);
levels(pDm,macdLevelsD,4);macdBars(pDm,macdD,2);
line(pDm,trendMacdD,'#111',2,null,6);
line(pDm,arrowShaftD,'#5B82E6',2,null,6);signals(pDm,arrowHeadD,'triangle','#4169E1',[13,14]);
circles(pDm,circlesD,[[27,24,3]]);
flags(pDm,[[-1.86,'-1.86','navy']],32);

/* ---------- E ---------- */
const geoE={left:1414.7,band:14,n:7,axisX:1513.3,frameLeft:1416};
const pE=pane({...geoE,top:38,bottom:702.5,min:22156.6,max:22376.6,yTicks:priceTicksE});
const pEm=pane({...geoE,top:702.5,bottom:752,min:-4.8,max:4.2,yTicks:macdTicksE,ticks:timeTicksE});
levels(pE,levelRows(gridE),1);
band(pE,purpleTopE,purpleBotE,'#B2B2DA');band(pE,blueTopE,blueBotE,'#BADCFE');band(pE,lowerTopE,lowerBotE,'#B2B2DA');
vlines(pE,timeTicksE.map(t=>t[0]),'rgba(150,150,150,0.35)');
levels(pE,levelsE);
line(pE,purpleTopE,'#191970',1);line(pE,purpleBotE,'#4169E1',1);line(pE,blueTopE,'#1E90FF',1);line(pE,blueBotE,'#1E90FF',1);line(pE,lowerTopE,'#191970',1);line(pE,lowerBotE,'#191970',1);
line(pE,maRedE,'#E0203C',1.5);line(pE,dashRedE,'#FF0000',3,[9,3,3,3]);line(pE,vwapE,'#1E90FF',3,[9,3,3,3]);
line(pE,lowDashE,'#0000E0',2,[5,3]);
candles(pE,candlesE,8);
line(pE,lowE,'#0000FF',2.5,null,6);line(pE,highE,'#0000FF',2.5,null,6);
allSignals(pE,upE,downE,pinkE,leftE);flags(pE,flagsE,38);
levels(pEm,[[0,'zero']],2);vlines(pEm,timeTicksE.map(t=>t[0]),'rgba(150,150,150,0.35)',1);
macdBars(pEm,macdE,3);flags(pEm,[[2.97,'2.97','navy']],28);

/* ============ WINDOW CHROME ============ */
const el=[];
const ZF=50;
function rect(x,y,w,h,fill,z,stroke){el.push({type:'rect',silent:true,z:z===undefined?ZF:z,shape:{x,y,width:w,height:h},style:{fill,stroke:stroke||null,lineWidth:stroke?1:0}});}
function txt(s,x,y,font,fill,z,align){el.push({type:'text',silent:true,z:z||30,style:{text:s,x,y,font:font||('11.2px '+FONT),fill:fill||TEXT,align:align||'left',verticalAlign:'middle'}});}
function seg(x1,y1,x2,y2,c,w,z){el.push({type:'line',silent:true,z:z||ZF+1,shape:{x1,y1,x2,y2},style:{stroke:c,lineWidth:w||1}});}
function poly(pts,fill,stroke,z){el.push({type:'polygon',silent:true,z:z||ZF+1,shape:{points:pts},style:{fill,stroke:stroke||null,lineWidth:stroke?1:0}});}
const grad=(a,b)=>({type:'linear',x:0,y:0,x2:0,y2:1,colorStops:[{offset:0,color:a},{offset:1,color:b}]});
const gradH=(s)=>({type:'linear',x:0,y:0,x2:1,y2:0,colorStops:s.map((c,i)=>({offset:i/(s.length-1),color:c}))});
function caret(x,y){poly([[x-3,y-2],[x+3,y-2],[x,y+2]],'#222');}
function candleIcon(x,y){[['#7CE04C',0],['#7CE04C',5],['#F0503C',10]].forEach(c=>{seg(x+c[1]+2,y-8,x+c[1]+2,y+8,'#333',1);el.push({type:'rect',silent:true,z:ZF+2,shape:{x:x+c[1],y:y-6,width:4,height:12,r:1},style:{fill:c[0],stroke:'#2a6a2a',lineWidth:.7}});});}
function pencil(x,y){poly([[x,y+7],[x+2,y+1],[x+10,y-7],[x+14,y-4],[x+5,y+5]],'#F5D33C','#8a7a30');poly([[x,y+7],[x+2,y+3],[x+4,y+5]],'#444');}
function magnifier(x,y,col,plus){el.push({type:'circle',silent:true,z:ZF+2,shape:{cx:x+9,cy:y-2,r:4.5},style:{fill:col?'#9CC8F0':'#D8D8D8',stroke:col?'#7a8aa0':'#bbb',lineWidth:1.2}});seg(x+5,y+2,x+1,y+7,col?'#555':'#bbb',2.5);
  if(plus){seg(x+11,y-5,x+16,y-5,col?'#12A012':'#bbb',2);seg(x+13.5,y-8,x+13.5,y-2,col?'#12A012':'#bbb',2);}}
function crosshair(x,y){seg(x,y,x+5,y,'#000',1.5);seg(x+9,y,x+14,y,'#000',1.5);seg(x+7,y-7,x+7,y-2,'#000',1.5);seg(x+7,y+2,x+7,y+7,'#000',1.5);}
function glassBox(x,y){rect(x,y-7,14,14,'#E8EEF6',ZF+1,'#7a7a7a');magnifier(x+1,y,true,false);}
function overflow(x,y){rect(x,y-6,7,11,'#C8C8C8',ZF+1);seg(x+1,y-2,x+6,y-2,'#222',1);poly([[x+1,y],[x+6,y],[x+3.5,y+3]],'#222');}
function sep(x,y){seg(x,y-9,x,y+9,'#BDBDBD',1);}
function dropdown(x,y,w,h){rect(x,y,w,h,grad('#FAFAFA','#D8D8D8'),ZF+1,'#8A8FA0');poly([[x+w/2-5,y+h/2-3],[x+w/2+5,y+h/2-3],[x+w/2,y+h/2+2]],'#111');}
function fBtn(x,y){rect(x,y,13,12,'#fff',ZF+1,'#000');txt('F',x+6.5,y+6,'10px '+FONT,'#000',ZF+2,'center');}
function tbText(s,x,y){txt(s,x,y,'12px '+FONT,'#1a1a1a',ZF+2);}

/* desktop and windows */
rect(0,0,1560,803,'#2C2C2C',-1);
rect(0,8,232,795,'#fff',-1);rect(243,8,353,792,'#fff',-1);rect(600,8,412,795,'#fff',-1);rect(1022,21,387,777,'#fff',-1);rect(1416,8,144,795,'#fff',-1);
/* covers that clip each window like its frame */
rect(232,0,11,803,gradH(['#6A6060','#2E2A2A','#6E6666','#2A2626','#3A3434']));
rect(596,0,5,803,gradH(['#BDBDBD','#7A7A7A','#9A9A9A']));
rect(601,36,9,767,gradH(['rgba(120,120,120,0.45)','rgba(255,255,255,0)']),49);
rect(1012,0,10,803,gradH(['#6A6060','#3A3434','#2A2626']));
rect(1409,0,7,803,gradH(['#E8DCE4','#B8ACB8','#F0E8F0']));
rect(0,0,1022,8,gradH(['#8E6A52','#A08878','#6A5A50','#3E3836','#2E2A2A','#3A3230','#2A2828']));
rect(1409,0,151,8,gradH(['#B0A8AC','#3A3434','#2A2A2A']));
rect(243,800,353,3,'#D8D8D8');rect(1022,798,387,5,'#D0D0D0');
seg(243,8,596,8,'#555',1);seg(600,8,1012,8,'#555',1);
/* E scrollbar and window parts */
rect(1416,780,144,23,'#F0F0F0',ZF);rect(1530,786,15,17,grad('#E8E8E8','#BEBEBE'),ZF+1,'#999');poly([[1554,790],[1558,794],[1554,798]],'#333');

/* toolbars */
[[0,8,232],[243,8,353],[600,8,412],[1022,21,387],[1416,8,144]].forEach(t=>rect(t[0],t[1],t[2],26,grad('#FBFBFB','#E6E6E6'),ZF));
/* A */
tbText('YM 12-17',4,20);caret(62,20);tbText('1 Min',73,20);caret(112,20);sep(122,20);candleIcon(128,20);caret(147,20);pencil(157,20);caret(177,20);magnifier(187,20,true,true);overflow(221,25);fBtn(218,35);
/* B */
sep(250,21);tbText('YM 12-17',264,21);caret(322,22);rect(329,11,62,22,'#CFE4FA',ZF+1,'#4A9AE8');tbText('8 Range',333,22);caret(384,22);sep(393,21);candleIcon(400,22);caret(419,22);pencil(429,22);caret(448,22);magnifier(458,22,true,true);magnifier(481,22,false,true);sep(504,22);crosshair(510,22);caret(530,22);glassBox(540,22);sep(562,22);overflow(585,28);fBtn(555,38);dropdown(571,37,20,20);
/* C */
sep(610,21);tbText('YM 12-17',617,21);caret(675,22);tbText('1 Min',686,22);caret(725,22);sep(736,21);candleIcon(741,22);caret(760,22);pencil(770,22);caret(789,22);magnifier(799,22,true,true);magnifier(822,22,false,true);sep(846,22);crosshair(851,22);caret(870,22);glassBox(881,22);sep(904,22);
rect(907,11,21,22,'#CFE4FA',ZF+1,'#4A9AE8');candleIcon(910,22);candleIcon(933,22);rect(955,15,16,14,'#F4F4F4',ZF+1,'#999');seg(957,25,962,19,'#4AB04A',1);seg(962,19,969,24,'#E05050',1);overflow(1004,28);dropdown(988,37,20,20);
/* D */
rect(1022,0,387,21,gradH(['#7E766C','#75685C','#625448','#241C16','#100C0A','#9A9898','#C0C0C0']),ZF);
el.push({type:'rect',silent:true,z:ZF+1,shape:{x:1026,y:2,width:12,height:12},style:{fill:'#CFE0F0',stroke:'#567',lineWidth:1}});seg(1027,12,1031,7,'#1A8A1A',1.5);seg(1031,7,1037,4,'#1A3A9A',1.5);
txt('YM 12-17 (4 Range)  9/28/2017',1044,7,'12px '+FONT,'#141414',ZF+2);
rect(1273,-1,31,12,'#F6F6F6',ZF+1,'#2A9AD8');txt('L',1288.5,3,'10px '+FONT,'#222',ZF+2,'center');
[[1308,34],[1343,32],[1376,33]].forEach(b=>rect(b[0],-1,b[1],11,'#A8A8A8',ZF+1,'#777'));
seg(1316,5,1334,5,'#F2F2F2',3);rect(1354,0,10,6,null,ZF+2,'#F2F2F2');txt('x',1392,3,'bold 11px '+FONT,'#F2F2F2',ZF+2,'center');
sep(1035,34);tbText('YM 12-17',1043,34);caret(1101,34);tbText('4 Range',1113,34);caret(1163,34);sep(1174,34);candleIcon(1179,34);caret(1198,34);pencil(1208,34);caret(1227,34);magnifier(1237,34,true,true);magnifier(1260,34,false,true);sep(1284,34);crosshair(1289,34);caret(1309,34);glassBox(1319,34);sep(1341,34);
rect(1345,23,21,22,'#CFE4FA',ZF+1,'#4A9AE8');candleIcon(1348,34);candleIcon(1371,34);overflow(1403,40);dropdown(1387,48,20,21);
/* E */
tbText('in',1416,20);caret(1435,20);sep(1445,20);candleIcon(1451,20);caret(1470,20);pencil(1480,20);caret(1500,20);magnifier(1510,20,true,true);overflow(1553,26);fBtn(1526,36);dropdown(1541,37,17,18);

/* pane separators */
[[243,596,480],[600,1012,504],[600,1012,664],[1022,1409,488]].forEach(s=>seg(s[0],s[2],s[1],s[2],'#000',1,6));

/* pane captions */
const T='11.2px '+FONT;
txt('PO and Volume Profile Chart (v4)',0,45,'11px '+FONT);
txt('2017 NinjaTrader, LLC',0,775,T);
txt('nal - www.fin-alg.com',0,800,T,'#2A8AA8');
txt('GomOR(YM 12-17 (8 Range),ShowDeveloping,16:00,06',247,47,T);
txt('MACD(YM 12-17 (8 Range),12,26,9)',247,497,T);
txt('\u00A9 2017 NinjaTrader, LLC',247,769,T);
txt('YM 12-17 (1 Min), YM 12-17 (5 Min), GomOR(YM 12-17 (1 Min),ShowDe',600,47,'10.8px '+FONT);
txt('Time remaining = 00:00:15',801,489,T);
txt('MACD(YM 12-17 (1 Min),12,26,9)',600,522,'11px '+FONT);
txt('anaBetterVolume(YM 12-17 (1 Min),20,10)',600,682,'11px '+FONT);
txt('\u00A9 2017 NinjaTrader, LLC',600,775,T);
txt('GomOR(YM 12-17 (4 Range),ShowDeveloping,16:00,06:30,09:3',1026,59,T);
txt('MACD(YM 12-17 (4 Range),12,26,9)',1026,505,T);
txt('\u00A9 2017 NinjaTrader, LLC',1026,765,T);
txt('),5), SMA(YM 12-17',1416,45,T);
txt('ining = 00:09:15',1416,687,T);
txt('lin),12,26,9)',1416,720,T);
txt('LC',1416,747,T);
txt('0',1417,765,T);

const chart=echarts.init(document.getElementById('c'),null,{renderer:'canvas',width:1560,height:803});
chart.setOption({animation:false,backgroundColor:'#2C2C2C',grid:grids,xAxis:xAxes,yAxis:yAxes,series:series,graphic:{elements:el},tooltip:{show:false},legend:{show:false}});
</script></body></html>
